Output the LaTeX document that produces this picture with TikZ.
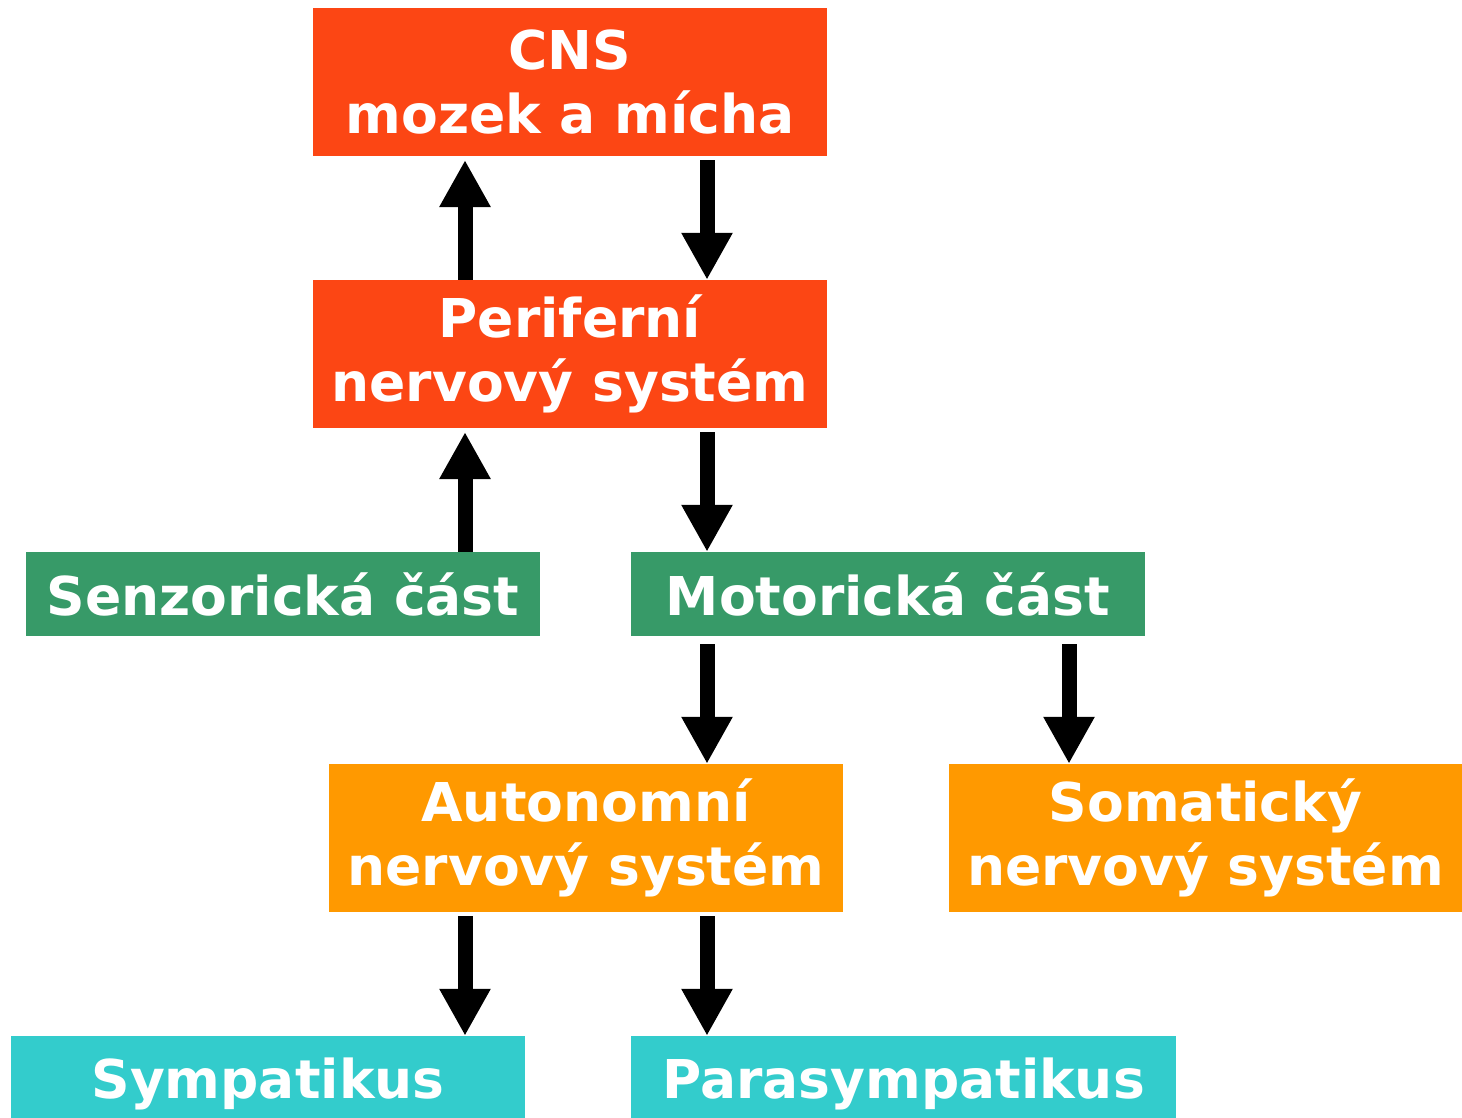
\documentclass[tikz,border=0pt]{standalone}
\usepackage{fontspec}
\setmainfont{DejaVu Sans}
\usetikzlibrary{arrows.meta}
\definecolor{cred}{HTML}{FC4614}
\definecolor{cgreen}{HTML}{379A68}
\definecolor{corange}{HTML}{FF9900}
\definecolor{ccyan}{HTML}{33CCCC}
\tikzset{
  box/.style={rectangle, inner sep=0pt, text=white, align=center,
    font=\fontsize{53.5}{64}\selectfont\bfseries},
  flow/.style={line width=15pt, -{Triangle[width=48pt,length=47pt]}, shorten >=0pt}
}
\begin{document}
\begin{tikzpicture}[x=1pt,y=-1pt]
\useasboundingbox (0,0) rectangle (1462,1117);
\fill[white] (0,0) rectangle (1462,1117);
% boxes
\node[box, fill=cred, minimum width=514pt, minimum height=148pt] (cns) at (570,82) {CNS\\mozek a mícha};
\node[box, fill=cred, minimum width=514pt, minimum height=148pt] (pns) at (570,354) {Periferní\\nervový systém};
\node[box, fill=cgreen, minimum width=514pt, minimum height=84pt] (senz) at (283,594) {Senzorická část};
\node[box, fill=cgreen, minimum width=514pt, minimum height=84pt] (mot) at (888,594) {Motorická část};
\node[box, fill=corange, minimum width=514pt, minimum height=148pt] (aut) at (586,838) {Autonomní\\nervový systém};
\node[box, fill=corange, minimum width=513pt, minimum height=148pt] (som) at (1205.5,838) {Somatický\\nervový systém};
\node[box, fill=ccyan, minimum width=514pt, minimum height=96pt] (sym) at (268,1084) {Sympatikus};
\node[box, fill=ccyan, minimum width=545pt, minimum height=96pt] (par) at (903.5,1084) {Parasympatikus};
% arrows
\draw[flow] (465,0 |- pns.north) -- (465,160);
\draw[flow] (707,160) -- (707,0 |- pns.north);
\draw[flow] (465,0 |- senz.north) -- (465,432);
\draw[flow] (707,432) -- (707,0 |- mot.north);
\draw[flow] (707,644) -- (707,0 |- aut.north);
\draw[flow] (1069,644) -- (1069,0 |- som.north);
\draw[flow] (465,916) -- (465,0 |- sym.north);
\draw[flow] (707,916) -- (707,0 |- par.north);
\end{tikzpicture}
\end{document}
